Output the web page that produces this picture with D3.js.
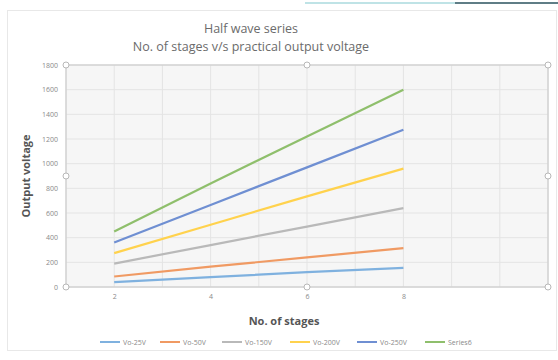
<!DOCTYPE html>
<html><head><meta charset="utf-8">
<script src="https://cdn.jsdelivr.net/npm/d3@7"></script>
<style>body{margin:0;background:#fff}svg{display:block}text{font-family:"Open Sans","Liberation Sans",sans-serif}</style>
</head><body>
<svg id="c" width="558" height="360"></svg>
<script>
const stages = [2, 4, 6, 8];
const seriesNames = ["Vo-25V", "Vo-50V", "Vo-150V", "Vo-200V", "Vo-250V", "Series6"];
const vo25 = [40, 80, 120, 155];
const vo50 = [85, 165, 240, 315];
const vo150 = [190, 340, 490, 640];
const vo200 = [275, 505, 735, 960];
const vo250 = [360, 665, 970, 1275];
const series6 = [450, 840, 1220, 1600];
const xTicks = [2, 4, 6, 8];
const yTicks = [0, 200, 400, 600, 800, 1000, 1200, 1400, 1600, 1800];
const colors = ["#7fb1df", "#f09a63", "#b9b9b9", "#ffd24d", "#6f8fd2", "#8fbf6c"];
const allSeries = [vo25, vo50, vo150, vo200, vo250, series6];

const svg = d3.select("#c");
const L = 66, R = 548, T = 65, B = 287;
const x = d3.scaleLinear().domain([1, 11]).range([L, R]);
const y = d3.scaleLinear().domain([0, 1800]).range([B, T]);

// top artifact line
svg.append("line").attr("x1", 305).attr("x2", 455).attr("y1", 3).attr("y2", 3).attr("stroke", "#bfe3e6").attr("stroke-width", 2);
svg.append("line").attr("x1", 455).attr("x2", 558).attr("y1", 3).attr("y2", 3).attr("stroke", "#5f7d86").attr("stroke-width", 2);

// chart border
svg.append("rect").attr("x", 7.5).attr("y", 10.5).attr("width", 549).attr("height", 340).attr("fill", "#fff").attr("stroke", "#e8e8e8");

// plot area
svg.append("rect").attr("x", L).attr("y", T).attr("width", R - L).attr("height", B - T).attr("fill", "#f6f6f6");

// gridlines
svg.append("g").selectAll("line").data(d3.range(1, 12)).join("line")
  .attr("x1", d => x(d)).attr("x2", d => x(d)).attr("y1", T).attr("y2", B)
  .attr("stroke", "#e4e4e4").attr("stroke-width", 1);
svg.append("g").selectAll("line").data(yTicks).join("line")
  .attr("x1", L).attr("x2", R).attr("y1", d => y(d)).attr("y2", d => y(d))
  .attr("stroke", "#e4e4e4").attr("stroke-width", 1);

// plot border
svg.append("rect").attr("x", L).attr("y", T).attr("width", R - L).attr("height", B - T)
  .attr("fill", "none").attr("stroke", "#cdcdcd").attr("stroke-width", 1.2);

// axes labels
const yAxis = d3.axisLeft(y).tickValues(yTicks).tickFormat(d3.format("d")).tickSize(0).tickPadding(8);
const gy = svg.append("g").attr("transform", `translate(${L},0)`).call(yAxis);
gy.select(".domain").remove();
gy.selectAll("text").attr("fill", "#8a8a8a").style("font-size", "7px");

const xAxis = d3.axisBottom(x).tickValues(xTicks).tickSize(0).tickPadding(7);
const gx = svg.append("g").attr("transform", `translate(0,${B})`).call(xAxis);
gx.select(".domain").remove();
gx.selectAll("text").attr("fill", "#8a8a8a").style("font-size", "7px");

// lines
const line = d3.line().x((d, i) => x(stages[i])).y(d => y(d));
svg.append("g").selectAll("path").data(allSeries).join("path")
  .attr("d", d => line(d)).attr("fill", "none")
  .attr("stroke", (d, i) => colors[i]).attr("stroke-width", 2.2);

// handles
const handles = [[L, T], [(L + R) / 2, T], [R, T], [L, (T + B) / 2], [R, (T + B) / 2], [L, B], [(L + R) / 2, B], [R, B]];
svg.append("g").selectAll("circle").data(handles).join("circle")
  .attr("cx", d => d[0]).attr("cy", d => d[1]).attr("r", 3)
  .attr("fill", "#fff").attr("stroke", "#b8b8b8").attr("stroke-width", 1);

// titles
svg.append("text").attr("x", 251).attr("y", 33).attr("text-anchor", "middle")
  .attr("fill", "#6b6b6b").style("font-size", "12.5px").text("Half wave series");
svg.append("text").attr("x", 251).attr("y", 51).attr("text-anchor", "middle")
  .attr("fill", "#6b6b6b").style("font-size", "12.5px").text("No. of stages v/s practical output voltage");

svg.append("text").attr("transform", `translate(30,${(T + B) / 2}) rotate(-90)`).attr("text-anchor", "middle")
  .attr("fill", "#555").style("font-size", "11px").style("font-weight", "bold").text("Output voltage");
svg.append("text").attr("x", 284).attr("y", 325).attr("text-anchor", "middle")
  .attr("fill", "#555").style("font-size", "11px").style("font-weight", "bold").text("No. of stages");

// legend
const legX = [100, 160, 222, 290, 357, 425];
const lg = svg.append("g").selectAll("g").data(seriesNames).join("g")
  .attr("transform", (d, i) => `translate(${legX[i]},342)`);
lg.append("line").attr("x1", 0).attr("x2", 20).attr("y1", 0).attr("y2", 0)
  .attr("stroke", (d, i) => colors[i]).attr("stroke-width", 2);
lg.append("text").attr("x", 23).attr("y", 2.5).attr("fill", "#8a8a8a").style("font-size", "7px").text(d => d);
</script>
</body></html>
